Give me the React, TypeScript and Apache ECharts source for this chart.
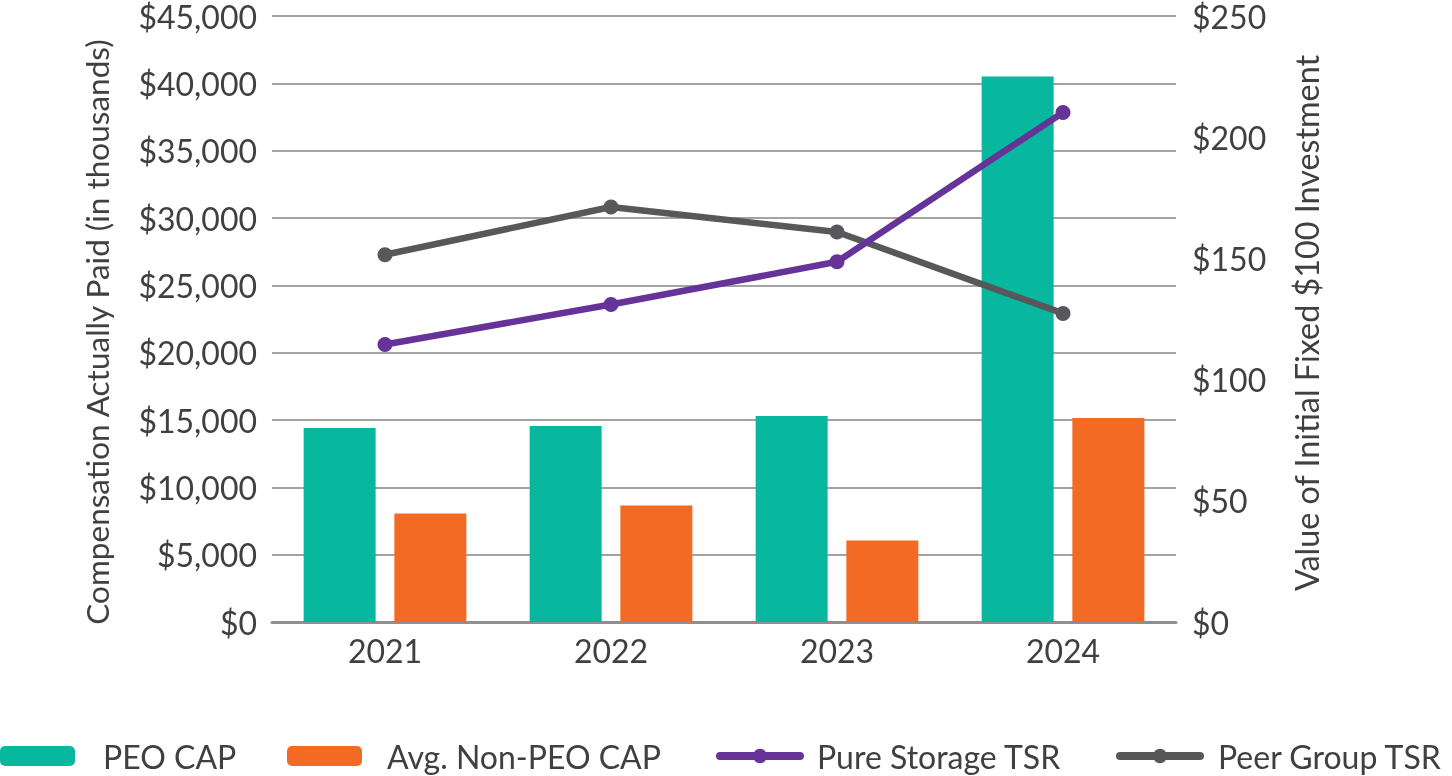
import React, { useEffect, useRef } from "react";
import * as echarts from "echarts";

const years = ["2021", "2022", "2023", "2024"];
const peoCap = [14400, 14550, 15300, 40500];
const nonPeoCap = [8050, 8650, 6050, 15150];
const pureTsr = [114.5, 131, 148.6, 210.2];
const peerTsr = [151.5, 171.2, 160.9, 127.3];
const leftTicks = { min: 0, max: 45000, interval: 5000 };
const rightTicks = { min: 0, max: 250, interval: 50 };

const FONT = "Lato";
const TEXT = "#404040";
const FS = 32;

export default function App() {
  const ref = useRef<HTMLDivElement>(null);
  useEffect(() => {
    if (!ref.current) return;
    const chart = echarts.init(ref.current, undefined, { renderer: "svg" });
    const legendBase = (left: number, w: number, h: number, pad: number, name: string) => ({
      top: 738,
      left,
      padding: 0,
      itemWidth: w,
      itemHeight: h,
      selectedMode: false,
      lineStyle: { width: 8, cap: "round" },
      textStyle: {
        fontFamily: FONT,
        fontSize: FS,
        lineHeight: 30,
        color: TEXT,
        padding: [0, 0, 6, pad],
      },
      data: [name],
    });
    const yLabel = {
      color: TEXT,
      fontSize: FS,
      fontFamily: FONT,
      lineHeight: 18,
      padding: [8, 0, 0, 0],
    };
    chart.setOption({
      animation: false,
      textStyle: { fontFamily: FONT },
      grid: { left: 272, right: 276, top: 13, bottom: 154, containLabel: false },
      legend: [
        legendBase(0, 75, 20, 23, "PEO CAP"),
        legendBase(287, 75, 20, 20, "Avg. Non-PEO CAP"),
        legendBase(716, 80, 18, 12, "Pure Storage TSR"),
        legendBase(1116, 80, 18, 13, "Peer Group TSR"),
      ],
      xAxis: {
        type: "category",
        data: years,
        axisTick: { show: false },
        axisLine: { lineStyle: { color: "#8f8f8f", width: 3 } },
        axisLabel: { color: TEXT, fontSize: FS, fontFamily: FONT, margin: 12 },
      },
      yAxis: [
        {
          type: "value",
          ...leftTicks,
          axisLine: { show: false },
          axisTick: { show: false },
          splitLine: { lineStyle: { color: "#a3a3a3", width: 2 } },
          axisLabel: {
            ...yLabel,
            margin: 15,
            formatter: (v: number) => "$" + v.toLocaleString("en-US"),
          },
        },
        {
          type: "value",
          ...rightTicks,
          axisLine: { show: false },
          axisTick: { show: false },
          splitLine: { show: false },
          axisLabel: {
            ...yLabel,
            margin: 16,
            formatter: (v: number) => "$" + v,
          },
        },
      ],
      graphic: [
        {
          type: "text",
          x: 97,
          y: 332,
          rotation: Math.PI / 2,
          style: {
            text: "Compensation Actually Paid (in thousands)",
            fontFamily: FONT,
            fontSize: 31.5,
            fill: TEXT,
            align: "center",
            verticalAlign: "middle",
          },
        },
        {
          type: "text",
          x: 1306,
          y: 323,
          rotation: Math.PI / 2,
          style: {
            text: "Value of Initial Fixed $100 Investment",
            fontFamily: FONT,
            fontSize: 32.3,
            fill: TEXT,
            align: "center",
            verticalAlign: "middle",
          },
        },
      ],
      series: [
        {
          name: "PEO CAP",
          type: "bar",
          data: peoCap,
          barWidth: 72,
          barGap: "26%",
          itemStyle: { color: "#07b89e" },
        },
        {
          name: "Avg. Non-PEO CAP",
          type: "bar",
          data: nonPeoCap,
          barWidth: 72,
          barGap: "26%",
          itemStyle: { color: "#f26a24" },
        },
        {
          name: "Pure Storage TSR",
          type: "line",
          yAxisIndex: 1,
          data: pureTsr,
          symbol: "circle",
          symbolSize: 15,
          lineStyle: { color: "#663399", width: 6.5 },
          itemStyle: { color: "#663399" },
          z: 5,
        },
        {
          name: "Peer Group TSR",
          type: "line",
          yAxisIndex: 1,
          data: peerTsr,
          symbol: "circle",
          symbolSize: 15,
          lineStyle: { color: "#58585a", width: 6.5 },
          itemStyle: { color: "#58585a" },
          z: 4,
        },
      ],
    });
    return () => chart.dispose();
  }, []);
  return (
    <div
      ref={ref}
      style={{ position: "fixed", left: 0, top: 0, width: 1452, height: 776 }}
    />
  );
}
